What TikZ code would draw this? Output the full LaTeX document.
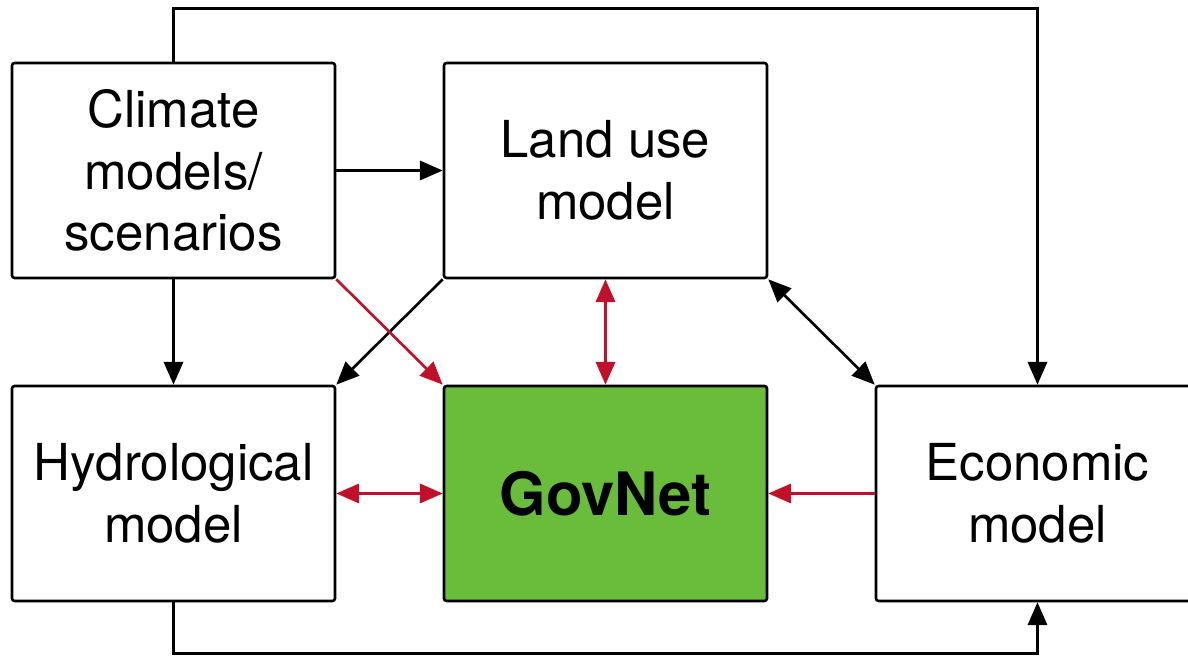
\documentclass[tikz,border=0pt]{standalone}
\usepackage{fontspec}
\setmainfont{TeX Gyre Heros}
\usetikzlibrary{positioning, arrows.meta}

\definecolor{linkred}{HTML}{C0102A}
\definecolor{govgreen}{HTML}{6ABD3A}

\begin{document}
\begin{tikzpicture}[
            node distance=2.107cm and 2.127cm,
            box/.style={draw, line width=1.5pt, rounded corners=1.5pt, align=center, minimum width=6.46cm, minimum height=4.3cm, font=\fontsize{29}{35}\selectfont},
            arrow/.style={-{Triangle[length=13pt, width=11pt]}, line width=1.5pt},
            both/.style={{Triangle[length=13pt, width=11pt]}-{Triangle[length=13pt, width=11pt]}, line width=1.5pt}
        ]
            \useasboundingbox (-3.47,3.41) rectangle (20.29,-9.73);
            \clip (-3.47,3.41) rectangle (20.29,-9.73);
            \node[box] (climate) {Climate\\models/\\scenarios};
\node[box, right=of climate] (landuse) {Land use\\model};
            \node[box, below=of climate] (hydro) {Hydrological\\model};
            \node[box, below=of landuse, fill=govgreen, font=\fontsize{34}{40}\selectfont\bfseries] (govnet) {GovNet};
\node[box, right=of govnet] (econ) {Economic\\model};
            \draw[arrow] (climate) -- (landuse);
            \draw[arrow] (climate) -- (hydro);
            \draw[arrow] (landuse.south west) -- (hydro.north east);
\draw[both] (landuse.south east) -- (econ.north west);
            \draw[arrow] (climate.north) -- ++(0,1.06) -| (econ.north);
            \draw[arrow] (hydro.south) -- ++(0,-1.02) -| (econ.south);
            % links into GovNet
            \draw[arrow, linkred] (climate.south east) -- (govnet.north west);
            \draw[both, linkred] (landuse) -- (govnet);
            \draw[both, linkred] (hydro) -- (govnet);
\draw[arrow, linkred] (econ) -- (govnet);
        \end{tikzpicture}
\end{document}
